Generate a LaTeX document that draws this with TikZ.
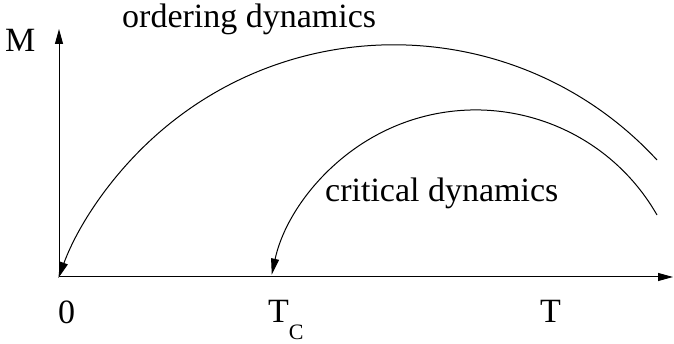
\documentclass[tikz,border=0pt]{standalone}
\usepackage{fontspec}
\setmainfont{Liberation Serif}
\usetikzlibrary{arrows.meta}
\tikzset{
	axisstyle/.style={
		line width=1pt,
		-{Triangle[length=15pt,width=8pt]}},
	arcstyle/.style={
		line width=1pt,
		-{Triangle[length=16pt,width=8pt]}},
	lbl/.style={
		inner sep=0pt,
		anchor=base west,
		font=\fontsize{34}{40}\selectfont}}

\begin{document}
\begin{tikzpicture}[x=1pt, y=1pt]
	\useasboundingbox (0,0) rectangle (674,344);
	
	% axes
	\coordinate (O) at (59,67);
	\coordinate (Mtop) at (59,315);
	\coordinate (Tend) at (673,67);
	\coordinate (Tc) at (267.6,67);
	\draw[axisstyle] (O) -- (Mtop);
	\draw[axisstyle] (O) -- (Tend);
	
	\node[lbl] (M) at (5,292) {M};
	\node[lbl] (zero) at (58,20) {0};
	\node[lbl] (T) at (540,21) {T};
	\node[lbl] (TC) at (268,21) {T\raisebox{-17pt}{\fontsize{22}{22}\selectfont C}};
	
	% the two flows
	\coordinate (bigstart) at (657,184);
	\coordinate (smallstart) at (657,129);
	\draw[arcstyle] (bigstart) arc[start angle=42.7, end angle=159.6, radius=358];
	\draw[arcstyle] (smallstart) arc[start angle=29.8, end angle=167.8, radius=208.8];
	
	\node[lbl] (ordering) at (122,316) {ordering dynamics};
	\node[lbl] (critical) at (325,142) {critical dynamics};
	
\end{tikzpicture}
\end{document}
